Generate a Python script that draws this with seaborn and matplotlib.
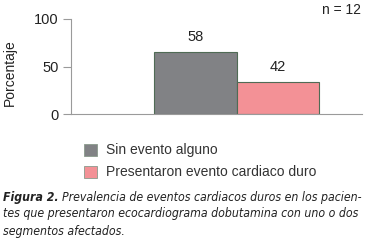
import matplotlib
matplotlib.use("Agg")
import matplotlib.pyplot as plt
import pandas as pd
import seaborn as sns
from matplotlib.patches import Rectangle

# values as drawn (bar heights) and as labelled
series = ["Sin evento alguno", "Presentaron evento cardiaco duro"]
heights = [65, 33.5]
labels = ["58", "42"]
colors = ["#818285", "#f39196"]
yticks = [0, 50, 100]
caption_bold = "Figura 2."
caption_lines = [
    "Prevalencia de eventos cardiacos duros en los pacien-",
    "tes que presentaron ecocardiograma dobutamina con uno o dos",
    "segmentos afectados.",
]

sns.set_theme(style="white")
plt.rcParams["font.family"] = ["Liberation Sans", "DejaVu Sans"]

df = pd.DataFrame({"grupo": ["g", "g"], "serie": series, "valor": heights})

fig = plt.figure(figsize=(3.65, 2.52), dpi=100)
W, H = 365, 252
ax = fig.add_axes([71 / W, 1 - 114 / H, (362 - 71) / W, (114 - 19) / H])

sns.barplot(data=df, x="grupo", y="valor", hue="serie", hue_order=series,
            palette=colors, saturation=1, width=1.0, edgecolor="#4f6b55",
            linewidth=0.8, legend=False, ax=ax)

ax.set_xlim(-1.006, 0.758)
ax.set_ylim(0, 100)
ax.set_yticks(yticks)
ax.set_yticklabels([str(t) for t in yticks], fontsize=10.5, color="#222222")
ax.set_xticks([])
ax.set_xlabel("")
ax.set_ylabel("Porcentaje", fontsize=10, color="#222222")
ax.yaxis.set_label_coords(-54 / 291, 0.44)
for s in ["top", "right"]:
    ax.spines[s].set_visible(False)
for s in ["left", "bottom"]:
    ax.spines[s].set_color("#9a9a9a")
    ax.spines[s].set_linewidth(0.8)
ax.tick_params(axis="y", left=True, length=6, width=0.8, color="#9a9a9a", pad=3)

for patch, lab in zip(ax.patches, labels):
    cx = patch.get_x() + patch.get_width() / 2
    ax.text(cx, patch.get_height() + 16, lab, ha="center", va="center",
            fontsize=10.5, color="#222222")

fig.text(361 / W, 1 - 10 / H, "n = 12", ha="right", va="center",
         fontsize=10, color="#222222")

# legend drawn by hand below the axes
for i, (name, c) in enumerate(zip(series, colors)):
    y = 150 + i * 22
    fig.patches.append(Rectangle((84 / W, 1 - (y + 6) / H), 13 / W, 12 / H,
                                 transform=fig.transFigure, facecolor=c,
                                 edgecolor="#8a9a8c", linewidth=0.6))
    fig.text(106 / W, 1 - y / H, name, ha="left", va="center",
             fontsize=10, color="#333333")

# caption: condensed italic, fitted to the widths seen in the reference
renderer = fig.canvas.get_renderer()
cap_kw = dict(ha="left", va="center", style="italic", color="#222222",
              family=["DejaVu Sans"], stretch="condensed")
fs = 8.5
t1 = fig.text(3 / W, 1 - 197 / H, caption_bold, weight="bold", fontsize=fs, **cap_kw)
t2 = fig.text(3 / W, 1 - 197 / H, caption_lines[0], fontsize=fs, **cap_kw)
t3 = fig.text(3 / W, 1 - 214 / H, caption_lines[1], fontsize=fs, **cap_kw)
t4 = fig.text(3 / W, 1 - 232 / H, caption_lines[2], fontsize=fs, **cap_kw)

# shrink so line 2 spans ~3..360 px
w3 = t3.get_window_extent(renderer).width
fs = fs * 357 / w3
for t in (t1, t2, t3, t4):
    t.set_fontsize(fs)
b1 = t1.get_window_extent(renderer)
t2.set_x((b1.x1 + 3) / W)

fig.savefig("out.png", dpi=100)
